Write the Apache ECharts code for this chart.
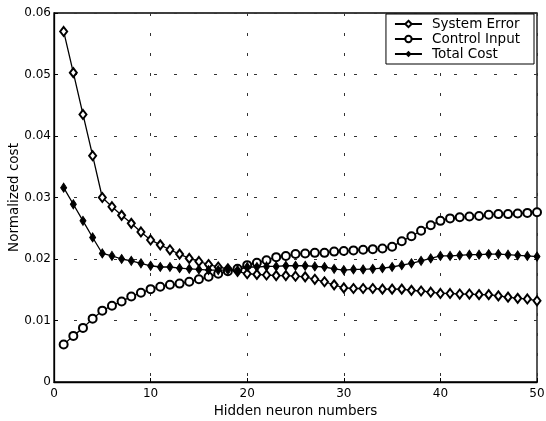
<!DOCTYPE html>
<html><head><meta charset="utf-8">
<script src="https://cdn.jsdelivr.net/npm/echarts@6/dist/echarts.min.js"></script>
<style>html,body{margin:0;padding:0;background:#fff}#c{width:546px;height:421px}</style>
</head><body><div id="c"></div>
<script>
const xs = [1,2,3,4,5,6,7,8,9,10,11,12,13,14,15,16,17,18,19,20,21,22,23,24,25,26,27,28,29,30,31,32,33,34,35,36,37,38,39,40,41,42,43,44,45,46,47,48,49,50];
const systemError = [0.0570,0.0503,0.0435,0.0368,0.0300,0.0285,0.0271,0.0258,0.0244,0.0231,0.0223,0.0215,0.0208,0.0201,0.0196,0.0191,0.0187,0.0184,0.0180,0.0176,0.0175,0.0174,0.0173,0.0173,0.0172,0.0171,0.0167,0.0163,0.0158,0.0153,0.0152,0.0152,0.0152,0.0151,0.0151,0.0151,0.0149,0.0148,0.0146,0.0144,0.0144,0.0143,0.0143,0.0142,0.0142,0.0140,0.0138,0.0136,0.0135,0.0132];
const controlInput = [0.0061,0.0075,0.0088,0.0103,0.0116,0.0124,0.0131,0.0139,0.0145,0.0151,0.0155,0.0158,0.0160,0.0163,0.0167,0.0171,0.0176,0.0180,0.0184,0.0190,0.0194,0.0198,0.0203,0.0205,0.0208,0.0209,0.0210,0.0210,0.0212,0.0213,0.0214,0.0215,0.0216,0.0217,0.0220,0.0229,0.0237,0.0246,0.0255,0.0262,0.0266,0.0268,0.0269,0.0270,0.0272,0.0273,0.0273,0.0274,0.0275,0.0276];
const totalCost = [0.0316,0.0289,0.0262,0.0235,0.0209,0.0205,0.0200,0.0197,0.0193,0.0189,0.0187,0.0187,0.0185,0.0184,0.0183,0.0182,0.0182,0.0182,0.0182,0.0187,0.0187,0.0188,0.0188,0.0189,0.0189,0.0189,0.0188,0.0187,0.0184,0.0182,0.0183,0.0183,0.0184,0.0185,0.0187,0.0190,0.0193,0.0197,0.0201,0.0205,0.0205,0.0206,0.0207,0.0207,0.0208,0.0208,0.0207,0.0206,0.0205,0.0204];
const seriesNames = ['System Error','Control Input','Total Cost'];
const xTicks = [0,10,20,30,40,50];
const yTicks = [0,0.01,0.02,0.03,0.04,0.05,0.06];

const font = 'DejaVu Sans, sans-serif';
const chart = echarts.init(document.getElementById('c'));
function pairs(arr){ return xs.map((x,i)=>[x,arr[i]]); }
const lineStyle = {color:'#000', width:1.3};
chart.setOption({
  animation:false,
  backgroundColor:'#fff',
  grid:{left:54,right:9,top:13,bottom:39,outerBoundsMode:'none',containLabel:false,show:true,borderColor:'#000',borderWidth:1.3,backgroundColor:'transparent'},
  legend:{
    right:12, top:14, orient:'vertical',
    backgroundColor:'#fff', borderColor:'#000', borderWidth:1,
    padding:[3,14,3,8], itemGap:1, itemWidth:27, itemHeight:8,
    textStyle:{fontFamily:font,fontSize:13.5,color:'#000',padding:[0,0,0,5]},
    data:seriesNames
  },
  xAxis:{
    type:'value', min:0, max:50, interval:10,
    name:'Hidden neuron numbers', nameLocation:'middle', nameGap:22,
    nameTextStyle:{fontFamily:font,fontSize:13.5,color:'#000'},
    axisLine:{show:true,lineStyle:{color:'#000',width:1.3}},
    axisTick:{show:true,inside:true,length:4,lineStyle:{color:'#000'}},
    axisLabel:{fontFamily:font,fontSize:12,color:'#000',margin:6,
      formatter:v=>xTicks.includes(v)?String(v):''},
    splitLine:{show:true,lineStyle:{color:'#333',type:[3,17],width:1}}
  },
  yAxis:{
    type:'value', min:0, max:0.06, interval:0.01,
    name:'Normalized cost', nameLocation:'middle', nameGap:33, nameMoveOverlap:false,
    nameTextStyle:{fontFamily:font,fontSize:13.5,color:'#000'},
    axisLine:{show:true,lineStyle:{color:'#000',width:1.3}},
    axisTick:{show:true,inside:true,length:4,lineStyle:{color:'#000'}},
    axisLabel:{fontFamily:font,fontSize:12,color:'#000',margin:3,
      formatter:v=>{const s=String(+v.toFixed(2));return yTicks.some(t=>Math.abs(t-v)<1e-9)?s:'';}},
    splitLine:{show:true,lineStyle:{color:'#333',type:[3,17],width:1}}
  },
  series:[
    {name:seriesNames[0],type:'line',data:pairs(systemError),symbol:'emptyDiamond',symbolSize:[7,9],
     lineStyle:lineStyle,itemStyle:{color:'#000',borderColor:'#000',borderWidth:1.2}},
    {name:seriesNames[1],type:'line',data:pairs(controlInput),symbol:'emptyCircle',symbolSize:8,
     lineStyle:lineStyle,itemStyle:{color:'#000',borderColor:'#000',borderWidth:1.2}},
    {name:seriesNames[2],type:'line',data:pairs(totalCost),symbol:'diamond',symbolSize:[6,9],
     lineStyle:lineStyle,itemStyle:{color:'#000',borderColor:'#000'}}
  ]
});
</script></body></html>
